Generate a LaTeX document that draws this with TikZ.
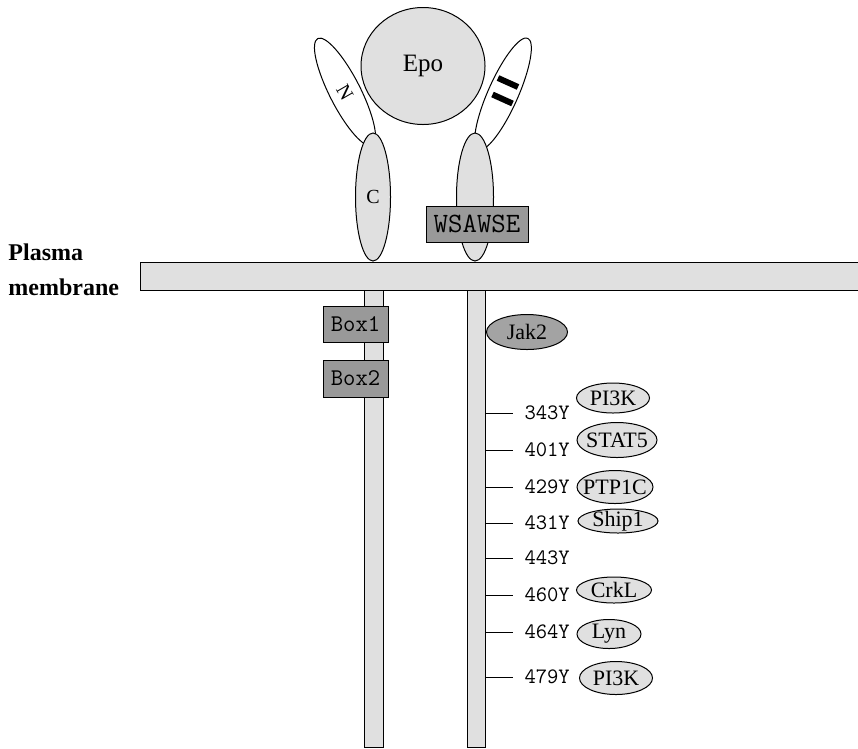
\documentclass[tikz,border=0pt]{standalone}
\usepackage{fontspec}
\setmainfont{Liberation Serif}
\usetikzlibrary{shapes.geometric}
\definecolor{lightgrey}{gray}{0.88}
\definecolor{boxgrey}{gray}{0.6}
\definecolor{jakgrey}{gray}{0.64}
\tikzset{
  protein/.style={ellipse,draw,fill=lightgrey,inner xsep=-10pt,inner ysep=-5pt,font=\fontsize{22}{22}\selectfont},
  domainbox/.style={rectangle,draw,fill=boxgrey,inner sep=0pt,font=\ttfamily\fontsize{24}{24}\selectfont},
  site/.style={anchor=west,inner ysep=0pt,inner xsep=11pt,font=\ttfamily\fontsize{22}{22}\selectfont},
}
\begin{document}
\begin{tikzpicture}[x=1pt,y=-1pt,line width=1pt]
\useasboundingbox (0,0) rectangle (858,748);

% extracellular part
\node[ellipse,draw,fill=white,minimum width=31,minimum height=120,rotate=27] (nleft) at (345,92) {};
\node[font=\fontsize{20}{20}\selectfont,rotate=-60] (nlab) at (345,92) {N};
\node[ellipse,draw,fill=white,minimum width=30,minimum height=122,rotate=-24] (nright) at (503,94) {};
\draw[line width=6pt] (498,78) -- (518,87);
\draw[line width=6pt] (492.5,94.5) -- (512.5,103.5);
\node[protein,minimum width=124,minimum height=117,font=\fontsize{25}{25}\selectfont] (epo) at (423,66) {Epo};
\node[protein,minimum width=35,minimum height=128,font=\fontsize{20}{20}\selectfont] (cleft) at (373,197) {C};
\node[protein,minimum width=37,minimum height=128] (cright) at (475,197) {};
\node[domainbox,minimum width=102,minimum height=36,font=\ttfamily\fontsize{28}{28}\selectfont] (wsawse) at (477,224) {WSAWSE};

% membrane and cytoplasmic tails
\draw[fill=lightgrey] (140,262) rectangle (864,290);
\node[anchor=west,align=left,inner sep=0pt,font=\bfseries\fontsize{24}{35}\selectfont] (pmlabel) at (8,270) {Plasma\\membrane};
\draw[fill=lightgrey] (364,290) rectangle (383,747);
\draw[fill=lightgrey] (467,290) rectangle (485,747);

\node[domainbox,minimum width=65,minimum height=36] (box1) at (355.5,324) {Box1};
\node[domainbox,minimum width=65,minimum height=37] (box2) at (355.5,378.5) {Box2};
\node[protein,fill=jakgrey,minimum width=81,minimum height=35] (jak2) at (527,332) {Jak2};

% tyrosine sites
\foreach \yy/\num in {413/343,450/401,487/429,523/431,558/443,595/460,632/464,677/479}{
  \coordinate (s\num) at (485,\yy);
  \node[site] (y\num) at (513,\yy) {\num Y};
  \draw (s\num) -- (y\num.west);
}

\node[protein,minimum width=73,minimum height=30] (pi3ka) at (613,398) {PI3K};
\node[protein,minimum width=80,minimum height=35] (stat5) at (617,440) {STAT5};
\node[protein,minimum width=76,minimum height=33] (ptp1c) at (615,487) {PTP1C};
\node[protein,minimum width=80,minimum height=24] (ship1) at (618,521) {Ship1};
\node[protein,minimum width=75,minimum height=26] (crkl) at (614,590) {CrkL};
\node[protein,minimum width=64,minimum height=29] (lyn) at (609,634) {Lyn};
\node[protein,minimum width=73,minimum height=33] (pi3kb) at (616,678) {PI3K};

\end{tikzpicture}
\end{document}
